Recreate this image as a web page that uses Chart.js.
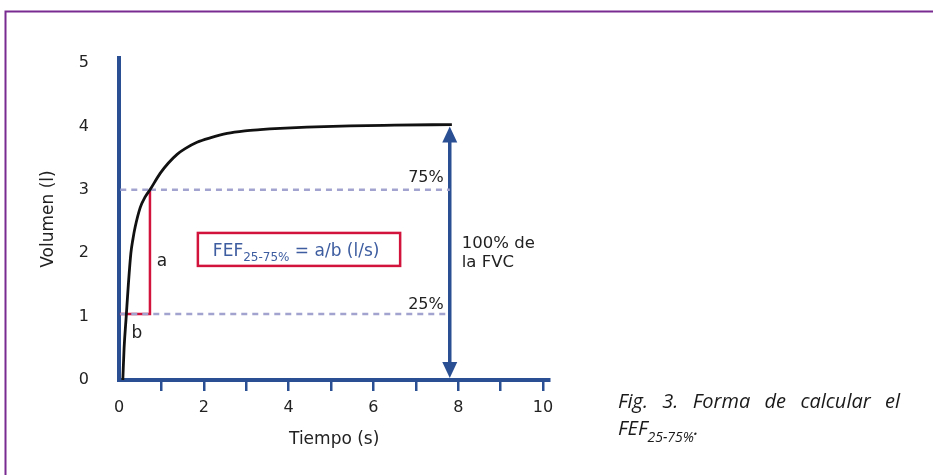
<!DOCTYPE html>
<html><head><meta charset="utf-8">
<script src="https://cdn.jsdelivr.net/npm/chart.js@4/dist/chart.umd.min.js"></script>
<style>html,body{margin:0;padding:0;background:#fff;} #wrap{position:relative;width:933px;height:475px;} canvas{display:block;}</style>
</head><body><div id="wrap"><canvas id="c" width="933" height="475"></canvas></div>
<script>
// ---- data ----
const timeS   = [0.09, 0.12, 0.17, 0.22, 0.28, 0.33, 0.38, 0.50, 0.61, 0.73, 0.97, 1.16, 1.37, 1.56, 1.84, 2.15, 2.55, 2.97, 3.33, 3.80, 4.43, 5.45, 6.50, 7.85];
const volumeL = [0.00, 0.50, 1.00, 1.50, 2.00, 2.23, 2.41, 2.72, 2.88, 3.00, 3.26, 3.42, 3.56, 3.65, 3.75, 3.82, 3.89, 3.93, 3.95, 3.97, 3.99, 4.01, 4.02, 4.03];
const xTicks = [0, 1, 2, 3, 4, 5, 6, 7, 8, 9, 10];
const yTicks = [0, 1, 2, 3, 4, 5];
const pct25 = 1.04;   // 25% FVC volume
const pct75 = 3.00;   // 75% FVC volume
const fvc = 4.03;     // 100% FVC
const t25 = 0.02, t75 = 0.73;  // times for b segment
const tArrow = 7.8;
const xTitle = 'Tiempo (s)';
const yTitle = 'Volumen (l)';

const BLUE = '#2a4f93', RED = '#d2133c', LAV = '#a3a3cf', TXT = '#222', FTXT = '#3d5da0';
const FONT = 'DejaVu Sans';

const curve = timeS.map((t, i) => ({x: t, y: volumeL[i]}));

const overlay = {
  id: 'overlay',
  afterDraw(chart) {
    const {ctx, scales: {x, y}} = chart;
    const px = v => x.getPixelForValue(v), py = v => y.getPixelForValue(v);
    ctx.save();
    // arrowheads
    ctx.fillStyle = BLUE;
    const ax = px(tArrow);
    const topTip = py(fvc) + 2, botTip = py(0) - 2;
    ctx.beginPath(); ctx.moveTo(ax, topTip); ctx.lineTo(ax - 7.5, topTip + 16); ctx.lineTo(ax + 7.5, topTip + 16); ctx.closePath(); ctx.fill();
    ctx.beginPath(); ctx.moveTo(ax, botTip); ctx.lineTo(ax - 7.5, botTip - 16); ctx.lineTo(ax + 7.5, botTip - 16); ctx.closePath(); ctx.fill();
    // FEF box
    ctx.strokeStyle = RED; ctx.lineWidth = 2.5;
    const bx1 = px(1.86), bx2 = px(6.63), by1 = py(2.32), by2 = py(1.80);
    ctx.strokeRect(bx1, by1, bx2 - bx1, by2 - by1);
    ctx.fillStyle = FTXT; ctx.textBaseline = 'alphabetic'; ctx.textAlign = 'left';
    let tx = bx1 + 15; const tb = (by1 + by2) / 2 + 7;
    ctx.font = '17px "' + FONT + '"'; ctx.fillText('FEF', tx, tb); tx += ctx.measureText('FEF').width;
    ctx.font = '12px "' + FONT + '"'; ctx.fillText('25-75%', tx, tb + 5); tx += ctx.measureText('25-75%').width;
    ctx.font = '17px "' + FONT + '"'; ctx.fillText(' = a/b (l/s)', tx, tb);
    // labels
    ctx.fillStyle = TXT;
    ctx.font = '17px "' + FONT + '"';
    ctx.textAlign = 'center';
    ctx.fillText('a', px(t75) + 12, py(1.8));
    ctx.fillText('b', px(t75) - 13, py(0.66));
    ctx.font = '16px "' + FONT + '"';
    ctx.textAlign = 'right';
    ctx.fillText('75%', ax - 6, py(pct75) - 8);
    ctx.fillText('25%', ax - 6, py(pct25) - 5);
    ctx.textAlign = 'left';
    ctx.font = '16.5px "' + FONT + '"';
    ctx.fillText('100% de', ax + 12, py(2.08));
    ctx.fillText('la FVC', ax + 12, py(1.78));
    // caption (justified)
    const cf = 'italic 20px "Open Sans"';
    ctx.font = cf; ctx.fillStyle = '#1a1a1a';
    const words = ['Fig.', '3.', 'Forma', 'de', 'calcular', 'el'];
    const cx1 = 618, cx2 = 900, cb1 = 408;
    const ws = words.map(w => ctx.measureText(w).width);
    const gap = Math.max(5, (cx2 - cx1 - ws.reduce((a, b) => a + b, 0)) / (words.length - 1));
    let wx = cx1;
    words.forEach((w, i) => { ctx.fillText(w, wx, cb1); wx += ws[i] + gap; });
    let c2 = cx1; const cb2 = 435;
    ctx.fillText('FEF', c2, cb2); c2 += ctx.measureText('FEF').width;
    ctx.font = 'italic 14px "Open Sans"'; ctx.fillText('25-75%', c2, cb2 + 7); c2 += ctx.measureText('25-75%').width;
    ctx.font = cf; ctx.fillText('.', c2, cb2);
    // frame
    ctx.strokeStyle = '#7a2b91'; ctx.lineWidth = 2;
    ctx.beginPath(); ctx.moveTo(5.5, 475); ctx.lineTo(5.5, 11.5); ctx.lineTo(933, 11.5); ctx.stroke();
    ctx.restore();
  }
};

new Chart(document.getElementById('c'), {
  type: 'line',
  data: {
    datasets: [
      {data: curve, borderColor: '#111', borderWidth: 2.8, pointRadius: 0, cubicInterpolationMode: 'monotone', fill: false},
      {data: [{x: t75, y: pct75}, {x: tArrow, y: pct75}], borderColor: LAV, borderWidth: 2.5, borderDash: [6, 5], pointRadius: 0},
      {data: [{x: 0.03, y: pct25}, {x: tArrow, y: pct25}], borderColor: LAV, borderWidth: 2.5, borderDash: [6, 5], pointRadius: 0},
      {data: [{x: 0.03, y: pct75}, {x: t75, y: pct75}], borderColor: LAV, borderWidth: 2.5, borderDash: [6, 5], pointRadius: 0},
      {data: [{x: t25, y: pct25}, {x: t75, y: pct25}, {x: t75, y: pct75}], borderColor: RED, borderWidth: 2.5, pointRadius: 0, tension: 0, borderJoinStyle: 'miter'},
      {data: [{x: tArrow, y: fvc - 0.2}, {x: tArrow, y: 0.2}], borderColor: BLUE, borderWidth: 3.5, pointRadius: 0}
    ]
  },
  options: {
    responsive: false, animation: false, parsing: true,
    layout: {padding: {left: 0, top: 58, right: 383.6, bottom: 0}},
    plugins: {legend: {display: false}, tooltip: {enabled: false}},
    scales: {
      x: {
        type: 'linear', min: 0, max: 10.15,
        afterBuildTicks: s => { s.ticks = xTicks.map(v => ({value: v})); },
        afterFit: s => { s.height = 95; },
        ticks: {callback: v => (v % 2 === 0 ? String(v) : ''), font: {family: FONT, size: 16}, color: TXT, padding: 7, maxRotation: 0, autoSkip: false},
        grid: {display: true, drawOnChartArea: false, drawTicks: true, tickLength: 11, lineWidth: 2.5, color: c => (c.index === 0 ? 'rgba(0,0,0,0)' : BLUE)},
        border: {display: true, color: BLUE, width: 4},
        title: {display: true, text: xTitle, font: {family: FONT, size: 17}, color: TXT, padding: {bottom: 25}}
      },
      y: {
        type: 'linear', min: 0, max: 5.08,
        afterBuildTicks: s => { s.ticks = yTicks.map(v => ({value: v})); },
        afterFit: s => { s.width = 119; },
        ticks: {font: {family: FONT, size: 16}, color: TXT, padding: 22},
        grid: {display: false},
        border: {display: true, color: BLUE, width: 4},
        title: {display: true, text: yTitle, font: {family: FONT, size: 17}, color: TXT, padding: {top: 38}}
      }
    }
  },
  plugins: [overlay]
});
</script></body></html>
